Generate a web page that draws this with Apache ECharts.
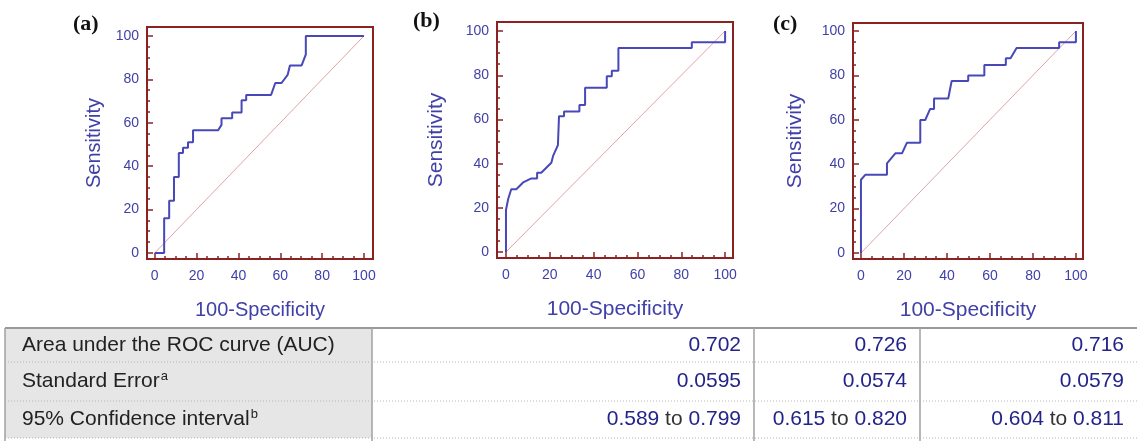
<!DOCTYPE html>
<html>
<head>
<meta charset="utf-8">
<script src="https://cdn.jsdelivr.net/npm/echarts@6/dist/echarts.min.js"></script>
<style>
  html, body { margin: 0; padding: 0; background: #fff; }
  #main { width: 1137px; height: 441px; }
</style>
</head>
<body>
<div id="main"></div>
<script>
// ROC curve points (100-Specificity, Sensitivity)
const fprA = [0, 4.5, 4.5, 6.9, 6.9, 9.2, 9.2, 11.5, 11.5, 13.5, 13.5, 15.9, 15.9, 18.3, 18.3, 30.3, 31.9, 31.9, 37, 37, 41.5, 41.5, 43.7, 43.7, 55.6, 57.6, 60.6, 63.5, 64.6, 70.2, 72.2, 72.2, 100];
const tprA = [0, 0, 16, 16, 24, 24, 35, 35, 46, 46, 48.5, 48.5, 51, 51, 56.5, 56.5, 59, 62, 62, 64.7, 64.7, 70.3, 70.3, 72.8, 72.8, 78.3, 78.3, 82, 86.4, 86.4, 91.5, 100, 100];

const fprB = [0, 0, 1, 2.4, 4.7, 7.8, 11.6, 14.2, 14.2, 16.1, 20.7, 21.5, 23.7, 24.2, 26.5, 26.5, 33.5, 33.5, 36.1, 36.1, 46, 46, 48.3, 48.3, 51.3, 51.3, 84.8, 84.8, 100, 100];
const tprB = [0, 19, 24, 28.4, 28.4, 31.5, 33.3, 33.3, 35.9, 35.9, 40.4, 43.5, 48.4, 61.5, 61.5, 63.6, 63.6, 66.5, 66.5, 74.4, 74.4, 79.5, 79.5, 82, 82, 92.3, 92.3, 94.9, 94.9, 100];

const fprC = [0, 0, 2, 12.1, 12.1, 16, 19.1, 21.4, 27.6, 27.6, 29.9, 32.2, 34, 34, 40.6, 42.2, 49.9, 49.9, 57.4, 57.4, 67.4, 67.4, 69.6, 72.4, 92.2, 92.2, 100, 100];
const tprC = [0, 33, 35.2, 35.2, 40.4, 44.9, 44.9, 49.7, 49.7, 59.9, 59.9, 64.9, 64.9, 69.6, 69.6, 77.5, 77.5, 79.9, 79.9, 84.7, 84.7, 87.7, 87.7, 92.3, 92.3, 94.9, 94.9, 100];

const chanceLine = [0, 100];
const tickValues = [0, 20, 40, 60, 80, 100];
const minorValues = [0, 5, 10, 15, 20, 25, 30, 35, 40, 45, 50, 55, 60, 65, 70, 75, 80, 85, 90, 95, 100];
const panelNames = ['(a)', '(b)', '(c)'];

// table under the charts
const rowLabels = ['Area under the ROC curve (AUC)', 'Standard Error', '95% Confidence interval'];
const rowSup = ['', 'a', 'b'];
const auc = ['0.702', '0.726', '0.716'];
const stdErr = ['0.0595', '0.0574', '0.0579'];
const ciLow = ['0.589', '0.615', '0.604'];
const ciHigh = ['0.799', '0.820', '0.811'];

const curveColor = '#4848b8';
const frameColor = '#8b2222';
const labelBlue = '#4040a8';
const sans = '"Liberation Sans", Arial, sans-serif';

const panels = [
  { fpr: fprA, tpr: tprA, box: [147, 27, 226, 232], x: [-3.7, 104.3], y: [-2.8, 104.1], yGap: 43, nameSize: 20, title: [73, 13] },
  { fpr: fprB, tpr: tprB, box: [497, 22, 236, 236], x: [-4.1, 103.6], y: [-2.7, 104.1], yGap: 50, nameSize: 21, title: [413, 10] },
  { fpr: fprC, tpr: tprC, box: [853, 23, 230, 236], x: [-3.7, 103.3], y: [-2.7, 103.6], yGap: 47, nameSize: 21, title: [773, 13] }
];

const grid = [], xAxis = [], yAxis = [], series = [], graphic = [];

panels.forEach((p, i) => {
  grid.push({
    left: p.box[0], top: p.box[1], width: p.box[2], height: p.box[3],
    show: true, borderColor: frameColor, borderWidth: 2, backgroundColor: '#fff'
  });
  const tickStyle = { color: frameColor, width: 1.5 };
  const noLine = { show: false, onZero: false };
  const labelStyle = { customValues: tickValues, color: labelBlue, fontSize: 14, fontFamily: sans };
  // major ticks + labels
  xAxis.push({
    gridIndex: i, type: 'value', min: p.x[0], max: p.x[1], position: 'bottom',
    axisLine: noLine, splitLine: { show: false },
    axisTick: { inside: true, length: 6, customValues: tickValues, lineStyle: tickStyle },
    axisLabel: Object.assign({ margin: 10 }, labelStyle),
    name: '100-Specificity', nameLocation: 'middle', nameGap: 41,
    nameTextStyle: { color: labelBlue, fontSize: p.nameSize, fontFamily: sans }
  });
  // minor ticks
  xAxis.push({
    gridIndex: i, type: 'value', min: p.x[0], max: p.x[1], position: 'bottom',
    axisLine: noLine, splitLine: { show: false }, axisLabel: { show: false },
    axisTick: { inside: true, length: 3, customValues: minorValues, lineStyle: tickStyle }
  });
  yAxis.push({
    gridIndex: i, type: 'value', min: p.y[0], max: p.y[1], position: 'left',
    axisLine: noLine, splitLine: { show: false },
    axisTick: { inside: true, length: 6, customValues: tickValues, lineStyle: tickStyle },
    axisLabel: Object.assign({ margin: 8 }, labelStyle),
    name: 'Sensitivity', nameLocation: 'middle', nameGap: p.yGap,
    nameTextStyle: { color: labelBlue, fontSize: p.nameSize, fontFamily: sans }
  });
  yAxis.push({
    gridIndex: i, type: 'value', min: p.y[0], max: p.y[1], position: 'left',
    axisLine: noLine, splitLine: { show: false }, axisLabel: { show: false },
    axisTick: { inside: true, length: 3, customValues: minorValues, lineStyle: tickStyle }
  });
  series.push({
    type: 'line', xAxisIndex: 2 * i, yAxisIndex: 2 * i,
    data: chanceLine.map(v => [v, v]), symbol: 'none', z: 2,
    lineStyle: { color: '#e0a4a4', width: 1 }
  });
  series.push({
    type: 'line', xAxisIndex: 2 * i, yAxisIndex: 2 * i,
    data: p.fpr.map((v, j) => [v, p.tpr[j]]), symbol: 'none', z: 3,
    lineStyle: { color: curveColor, width: 2 }
  });
  graphic.push({
    type: 'text', left: p.title[0], top: p.title[1],
    style: { text: panelNames[i], font: 'bold 22px "Liberation Serif", "Times New Roman", serif', fill: '#111' }
  });
});

// table
const tTop = 328, rowH = [34, 39, 37];
const colX = [5, 372, 754, 920, 1137];
const tBottom = tTop + rowH[0] + rowH[1] + rowH[2];
graphic.push({ type: 'rect', shape: { x: colX[0], y: tTop, width: colX[1] - colX[0], height: tBottom - tTop }, style: { fill: '#e6e6e6' }, z: 1 });
graphic.push({ type: 'line', shape: { x1: colX[0], y1: tTop, x2: 1137, y2: tTop }, style: { stroke: '#9a9a9a', lineWidth: 2 }, z: 3 });
[0, 1, 2, 3].forEach(c => {
  graphic.push({ type: 'line', shape: { x1: colX[c], y1: tTop, x2: colX[c], y2: 441 }, style: { stroke: '#a0a0a0', lineWidth: 1.5 }, z: 3 });
});

const cellValues = [auc, stdErr, ciLow.map((v, k) => '{v|' + v + '}{t| to }{v|' + ciHigh[k] + '}')];
let y = tTop;
rowLabels.forEach((lab, r) => {
  const cy = y + rowH[r] / 2;
  graphic.push({
    type: 'text', x: 22, y: cy, z: 4,
    style: {
      text: '{n|' + lab + '}' + (rowSup[r] ? '{s|' + rowSup[r] + '}' : ''),
      verticalAlign: 'middle',
      rich: {
        n: { font: '21px ' + sans, fill: '#222', lineHeight: 24 },
        s: { font: '13px ' + sans, fill: '#222', verticalAlign: 'top', lineHeight: 24, padding: [0, 0, 8, 1] }
      }
    }
  });
  for (let c = 0; c < 3; c++) {
    const val = cellValues[r][c];
    graphic.push({
      type: 'text', x: colX[c + 2] - 13, y: cy, z: 4,
      style: {
        text: r === 2 ? val : '{v|' + val + '}',
        align: 'right', verticalAlign: 'middle',
        rich: {
          v: { font: '21px ' + sans, fill: '#23238a' },
          t: { font: '21px ' + sans, fill: '#333' }
        }
      }
    });
  }
  y += rowH[r];
  graphic.push({ type: 'line', shape: { x1: colX[0], y1: y, x2: 1137, y2: y }, style: { stroke: '#b4b4b4', lineWidth: 1, lineDash: [1, 2] }, z: 3 });
});

const chart = echarts.init(document.getElementById('main'));
chart.setOption({
  animation: false,
  backgroundColor: '#fff',
  grid: grid,
  xAxis: xAxis,
  yAxis: yAxis,
  series: series,
  graphic: graphic
});
</script>
</body>
</html>
